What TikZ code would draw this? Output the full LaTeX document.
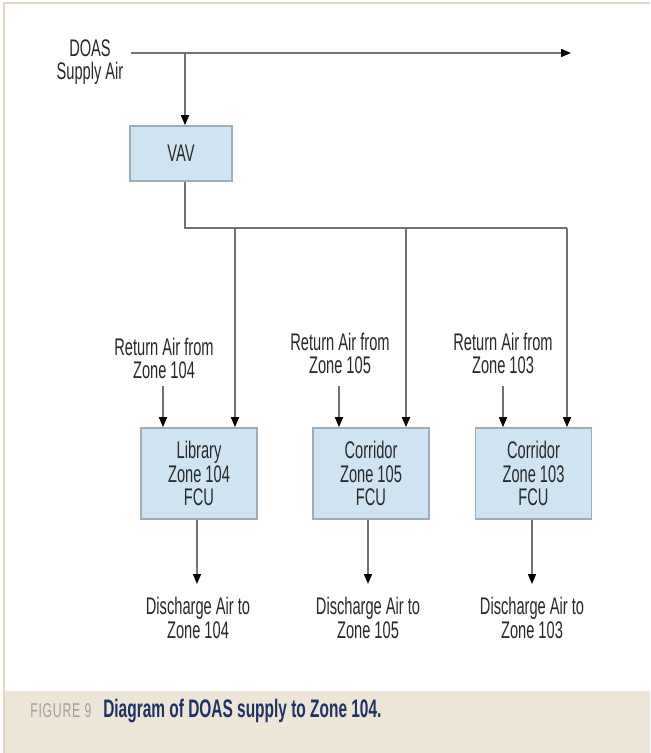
\documentclass[tikz,border=0pt]{standalone}
\usepackage{fontspec}
\setmainfont[FakeStretch=0.61]{Liberation Sans}
\usetikzlibrary{arrows.meta}
\definecolor{boxfill}{RGB}{207,228,242}
\definecolor{boxline}{RGB}{160,172,182}
\definecolor{pipecol}{RGB}{115,115,115}
\definecolor{txt}{RGB}{40,40,40}
\definecolor{bandcol}{RGB}{237,229,216}
\definecolor{framecol}{RGB}{228,216,196}
\definecolor{capgray}{RGB}{160,162,152}
\definecolor{navy}{RGB}{30,50,100}
\begin{document}
\begin{tikzpicture}[x=0.75pt,y=-0.75pt,
  lbl/.style={font=\fontsize{18}{17.5}\selectfont, text=txt, align=center, inner sep=0pt},
  unit/.style={lbl, draw=boxline, line width=1.3pt, fill=boxfill},
  fcubox/.style={unit, minimum width=87pt, minimum height=68.25pt},
  duct/.style={draw=pipecol, line width=1.2pt},
  flow/.style={duct, -{Triangle[length=7.5pt,width=6pt,color=black]}}
]
\useasboundingbox (0,0) rectangle (650,753);
\fill[white] (0,0) rectangle (650,753);
\fill[bandcol] (4,691) rectangle (650,753);
\draw[framecol, line width=1.5pt] (4,753) -- (4,3) -- (650,3);

% supply
\node[lbl] (doas) at (90,62) {DOAS\\Supply Air};
\coordinate (src) at (131,53);
\coordinate (brA) at (185,53);
\coordinate (out) at (571,53);
\node[unit, minimum width=76.5pt, minimum height=41.25pt] (vav) at (181,153.5) {VAV};
\coordinate (hdrL) at (185,228);
\coordinate (dA) at (235,228);
\coordinate (dB) at (406,228);
\coordinate (dC) at (567,228);

% FCUs
\node[fcubox] (fcuA) at (199,473.5) {Library\\Zone 104\\FCU};
\node[fcubox] (fcuB) at (371,473.5) {Corridor\\Zone 105\\FCU};
\node[fcubox] (fcuC) at (533.5,473.5) {Corridor\\Zone 103\\FCU};

% return labels
\node[lbl] (retA) at (164,358.5) {Return Air from\\Zone 104};
\node[lbl] (retB) at (340,353.5) {Return Air from\\Zone 105};
\node[lbl] (retC) at (503,353.5) {Return Air from\\Zone 103};
\coordinate (rA) at (163,386);
\coordinate (rB) at (339,386);
\coordinate (rC) at (503,386);

% discharge labels
\node[lbl] (disA) at (198,618) {Discharge Air to\\Zone 104};
\node[lbl] (disB) at (368,618) {Discharge Air to\\Zone 105};
\node[lbl] (disC) at (532,618) {Discharge Air to\\Zone 103};
\coordinate (eA) at (197,584);
\coordinate (eB) at (368,584);
\coordinate (eC) at (532,584);

% connectors
\draw[duct] (src) -- (brA);
\draw[flow] (brA) -- (out);
\draw[flow] (brA) -- (brA |- vav.north);
\draw[duct] (vav.south -| brA) -- (hdrL) -- (dC);
\draw[flow] (dA) -- (dA |- fcuA.north);
\draw[flow] (dB) -- (dB |- fcuB.north);
\draw[flow] (dC) -- (dC |- fcuC.north);
\draw[flow] (rA) -- (rA |- fcuA.north);
\draw[flow] (rB) -- (rB |- fcuB.north);
\draw[flow] (rC) -- (rC |- fcuC.north);
\draw[flow] (fcuA.south -| eA) -- (eA);
\draw[flow] (fcuB.south -| eB) -- (eB);
\draw[flow] (fcuC.south -| eC) -- (eC);

% caption
\node[anchor=base west, text=capgray, inner sep=0pt, font=\fontsize{15}{16}\selectfont\addfontfeature{LetterSpace=4}] (fig) at (30,717) {FIGURE 9};
\node[anchor=base west, text=navy, inner sep=0pt, font=\fontsize{19}{20}\selectfont\bfseries] (cap) at (103,717) {Diagram of DOAS supply to Zone 104.};
\end{tikzpicture}
\end{document}
